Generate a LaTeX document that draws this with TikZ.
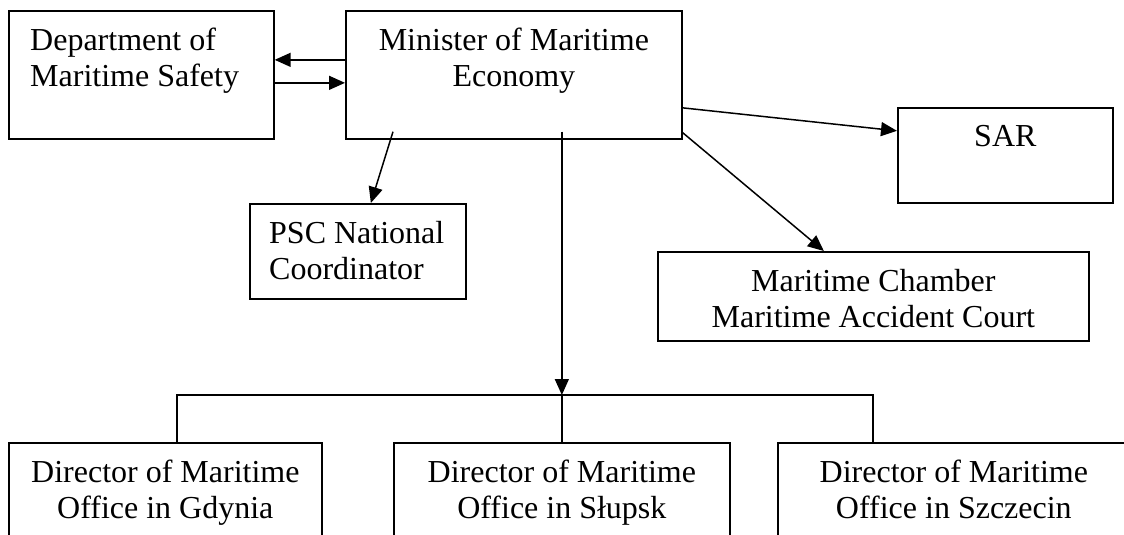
\documentclass[tikz,border=0pt]{standalone}
\usepackage{fontspec}
\setmainfont{Liberation Serif}
\usetikzlibrary{arrows.meta}

\begin{document}
\begin{tikzpicture}[x=1pt, y=-1pt,
		unit/.style={draw, line width=1.7pt, anchor=north west, inner sep=0pt},
		txt/.style={font=\fontsize{32}{36}\selectfont, inner sep=0pt},
		link/.style={line width=1.5pt},
		tip/.style={link, -{Triangle[length=16pt,width=14pt]}}]
		\useasboundingbox (0,0) rectangle (1124,535);
		\clip (0,0) rectangle (1124,535);
		% boxes
		\node[unit, minimum width=265pt, minimum height=128pt] (dms) at (8,10) {};
		\node[unit, minimum width=336pt, minimum height=128pt] (min) at (345,10) {};
		\node[unit, minimum width=216pt, minimum height=95pt] (psc) at (249,203) {};
		\node[unit, minimum width=215pt, minimum height=95pt] (sar) at (897,107) {};
		\node[unit, minimum width=431pt, minimum height=89pt] (mc) at (657,251) {};
		\node[unit, minimum width=313pt, minimum height=120pt] (gdy) at (8,442) {};
		\node[unit, minimum width=336pt, minimum height=120pt] (slp) at (393,442) {};
		\node[unit, minimum width=352pt, minimum height=120pt] (szc) at (777,442) {};
		% texts
		\node[txt, anchor=north west, align=left] (dmst) at ([shift={(22pt,-18pt)}]dms.north west) {Department of\\Maritime Safety};
		\node[txt, anchor=north, align=center] (mint) at ([yshift=-18pt]min.north) {Minister of Maritime\\Economy};
		\node[txt, anchor=north west, align=left] (psct) at ([shift={(20pt,-18pt)}]psc.north west) {PSC National\\Coordinator};
		\node[txt, anchor=north, align=center] (sart) at ([yshift=-18pt]sar.north) {SAR};
		\node[txt, anchor=north, align=center] (mct) at ([yshift=-18pt]mc.north) {Maritime Chamber\\Maritime Accident Court};
		\node[txt, anchor=north, align=center] (gdyt) at ([yshift=-18pt]gdy.north) {Director of Maritime\\Office in Gdynia};
		\node[txt, anchor=north, align=center] (slpt) at ([yshift=-18pt]slp.north) {Director of Maritime\\Office in Słupsk};
		\node[txt, anchor=north, align=center] (szct) at ([yshift=-18pt]szc.north) {Director of Maritime\\Office in Szczecin};
		% minister and department
		\draw[tip] ([yshift=15pt]min.west) -- ([yshift=15pt]dms.east);
		\draw[tip] ([yshift=-8pt]dms.east) -- ([yshift=-8pt]min.west);
		% minister to the others
		\draw[tip] ([shift={(48pt,8pt)}]min.south west) -- ([xshift=13pt]psc.north);
		\draw[tip] ([yshift=-33pt]min.east) -- ([yshift=24.5pt]sar.west);
		\draw[tip] ([yshift=7pt]min.south east) -- ([xshift=-49.5pt]mc.north);
		% directors
		\coordinate (split) at (slp.north |- 0,395);
		\coordinate (bl) at (177,395);
		\coordinate (br) at (873,395);
		\draw[tip] ([shift={(48pt,8pt)}]min.south) -- (split);
		\draw[link] (bl |- gdy.north) -- (bl) -- (br) -- (br |- szc.north);
		\draw[link] (split) -- (slp.north);
	\end{tikzpicture}
\end{document}
